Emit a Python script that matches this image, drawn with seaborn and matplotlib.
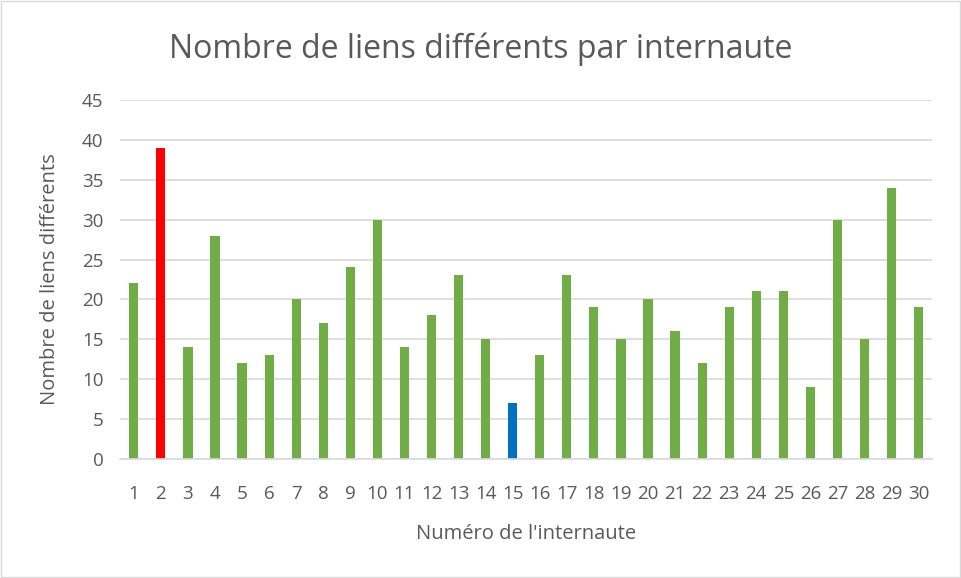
import matplotlib
matplotlib.use("Agg")
import matplotlib.pyplot as plt
from matplotlib.patches import Rectangle
import seaborn as sns
import pandas as pd

# number of distinct links per user
internautes = list(range(1, 31))
nb_liens = [22, 39, 14, 28, 12, 13, 20, 17, 24, 30,
            14, 18, 23, 15, 7, 13, 23, 19, 15, 20,
            16, 12, 19, 21, 21, 9, 30, 15, 34, 19]
highlight = {2: "max", 15: "min"}
couleurs = {"autre": "#70AD47", "max": "#FF0000", "min": "#0070C0"}

df = pd.DataFrame({"internaute": internautes, "liens": nb_liens})
df["groupe"] = [highlight.get(i, "autre") for i in internautes]

sns.set_style("white")
plt.rcParams["font.family"] = ["Open Sans", "DejaVu Sans"]

fig = plt.figure(figsize=(9.62, 5.78), dpi=100)
ax = fig.add_axes([0.125, 0.206, 0.844, 0.621])

sns.barplot(data=df, x="internaute", y="liens", hue="groupe",
            palette=couleurs, width=0.34, dodge=False, legend=False,
            saturation=1, linewidth=0, ax=ax)

ax.set_ylim(0, 45)
ax.set_yticks(range(0, 46, 5))
ax.yaxis.grid(True, color="#D9D9D9", linewidth=1.2)
ax.set_axisbelow(True)
for s in ["top", "right", "left"]:
    ax.spines[s].set_visible(False)
ax.spines["bottom"].set_color("#D9D9D9")
ax.spines["bottom"].set_linewidth(1.2)
ax.tick_params(axis="y", length=0, labelsize=13.5, colors="#595959", pad=12)
ax.tick_params(axis="x", length=0, labelsize=13.5, colors="#595959", pad=19)
ax.set_xlim(-0.5, 29.5)

ax.set_xlabel("Numéro de l'internaute", fontsize=14.5, color="#595959", labelpad=15)
ax.set_ylabel("Nombre de liens différents", fontsize=14.5, color="#595959", labelpad=16)
fig.text(0.5, 0.915, "Nombre de liens différents par internaute",
         ha="center", va="center", fontsize=23, color="#595959")

fig.patches.append(Rectangle((0.001, 0.001), 0.997, 0.997, transform=fig.transFigure,
                             fill=False, edgecolor="#D9D9D9", linewidth=1))

fig.savefig("out.png", dpi=100)
